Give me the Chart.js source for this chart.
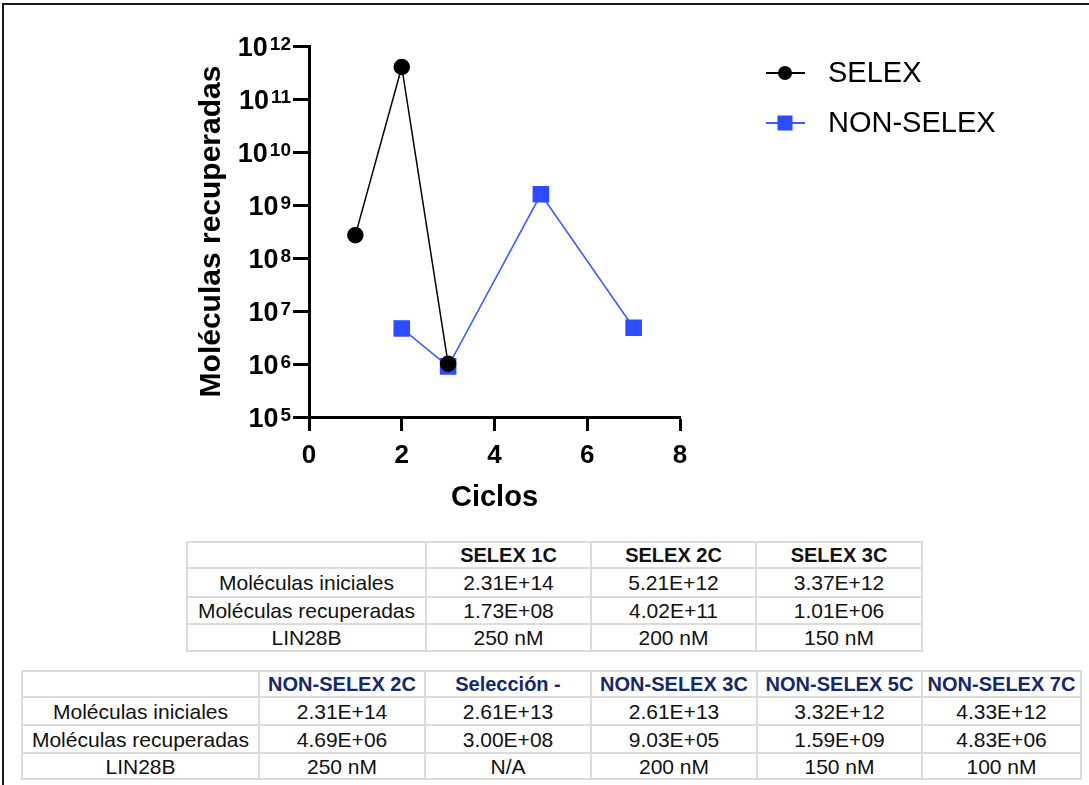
<!DOCTYPE html>
<html>
<head>
<meta charset="utf-8">
<script src="https://cdn.jsdelivr.net/npm/chart.js@4/dist/chart.umd.min.js"></script>
<style>
  html, body { margin: 0; padding: 0; background: #fff; }
  body { width: 1089px; height: 785px; position: relative; overflow: hidden; font-family: "Liberation Sans", Arial, sans-serif; }
  #frame { position: absolute; left: 2px; top: 3px; right: -10px; bottom: -10px; border-top: 2px solid #1a1a1a; border-left: 2px solid #1a1a1a; }
  #wrap { position: absolute; left: 0; top: 0; width: 1089px; height: 530px; }
  table { position: absolute; border-collapse: collapse; table-layout: fixed; font-size: 21px; color: #111; }
  td { border: 2px solid #dcdcdc; text-align: center; vertical-align: middle; padding: 0; line-height: 21px; white-space: nowrap; font-size: 21px; }
  th { border: 2px solid #dcdcdc; text-align: center; vertical-align: middle; padding: 0; line-height: 20px; white-space: nowrap; font-weight: bold; font-size: 20px; }
  #t1 { left: 186px; top: 541px; }
  #t2 { left: 21px; top: 670px; }
  #t2 th { color: #14296a; }
</style>
</head>
<body>
<div id="frame"></div>
<div id="wrap"><canvas id="c" width="1089" height="530"></canvas></div>
<table id="t1"></table>
<table id="t2"></table>
<script>
// ---- chart data ----
const selexCycles = [1, 2, 3];
const selexValues = [2.7e8, 4.02e11, 1.01e6];
const nonSelexCycles = [2, 3, 5, 7];
const nonSelexValues = [4.69e6, 9.03e5, 1.59e9, 4.83e6];
const seriesLabels = ["SELEX", "NON-SELEX"];
const yExponents = [5, 6, 7, 8, 9, 10, 11, 12];
const xTicks = [0, 2, 4, 6, 8];
const xTitle = "Ciclos";
const yTitle = "Moléculas recuperadas";

// ---- table data ----
const rowLabels = ["Moléculas iniciales", "Moléculas recuperadas", "LIN28B"];
const table1Headers = ["SELEX 1C", "SELEX 2C", "SELEX 3C"];
const table1Iniciales = ["2.31E+14", "5.21E+12", "3.37E+12"];
const table1Recuperadas = ["1.73E+08", "4.02E+11", "1.01E+06"];
const table1Lin28b = ["250 nM", "200 nM", "150 nM"];
const table2Headers = ["NON-SELEX 2C", "Selección -", "NON-SELEX 3C", "NON-SELEX 5C", "NON-SELEX 7C"];
const table2Iniciales = ["2.31E+14", "2.61E+13", "2.61E+13", "3.32E+12", "4.33E+12"];
const table2Recuperadas = ["4.69E+06", "3.00E+08", "9.03E+05", "1.59E+09", "4.83E+06"];
const table2Lin28b = ["250 nM", "N/A", "200 nM", "150 nM", "100 nM"];

// ---- tables ----
function buildTable(el, headers, rows, colWidths, rowHeights) {
  let html = '<colgroup>' + colWidths.map(w => `<col style="width:${w}px">`).join('') + '</colgroup>';
  html += `<tr style="height:${rowHeights[0]}px"><th></th>` + headers.map(h => `<th>${h}</th>`).join('') + '</tr>';
  rows.forEach((r, i) => {
    html += `<tr style="height:${rowHeights[i + 1]}px"><td>${rowLabels[i]}</td>` + r.map(v => `<td>${v}</td>`).join('') + '</tr>';
  });
  el.innerHTML = html;
}
buildTable(document.getElementById('t1'), table1Headers,
  [table1Iniciales, table1Recuperadas, table1Lin28b],
  [239, 165, 165, 166], [26, 29, 27, 27]);
buildTable(document.getElementById('t2'), table2Headers,
  [table2Iniciales, table2Recuperadas, table2Lin28b],
  [237, 166, 166, 166, 165, 159], [26, 28, 28, 26]);

// ---- chart ----
const BLACK = '#000000';
const BLUE = '#2b4cff';
const BLUE_LINE = '#3d5cff';
const FAMILY = '"Liberation Sans", Arial, sans-serif';

const superscriptTicks = {
  id: 'superscriptTicks',
  afterDraw(chart) {
    const ctx = chart.ctx;
    const y = chart.scales.y;
    ctx.save();
    ctx.fillStyle = '#000';
    yExponents.forEach(e => {
      const py = y.getPixelForValue(Math.pow(10, e));
      ctx.font = 'bold 19px ' + FAMILY;
      const ew = ctx.measureText(String(e)).width;
      const right = 291;
      ctx.textAlign = 'left';
      ctx.textBaseline = 'alphabetic';
      ctx.fillText(String(e), right - ew, py + 4);
      ctx.font = 'bold 27px ' + FAMILY;
      ctx.textAlign = 'right';
      ctx.fillText('10', right - ew - 2, py + 10);
    });
    ctx.restore();
  }
};

const customLegend = {
  id: 'customLegend',
  afterDraw(chart) {
    const ctx = chart.ctx;
    const ys = [73, 123];
    ctx.save();
    chart.data.datasets.forEach((ds, i) => {
      const yy = ys[i];
      ctx.strokeStyle = ds.borderColor;
      ctx.lineWidth = 2;
      ctx.beginPath();
      ctx.moveTo(766, yy);
      ctx.lineTo(805, yy);
      ctx.stroke();
      ctx.fillStyle = ds.pointBackgroundColor;
      if (ds.pointStyle === 'circle') {
        ctx.beginPath();
        ctx.arc(785, yy, 7, 0, Math.PI * 2);
        ctx.fill();
      } else {
        ctx.fillRect(785 - 7.5, yy - 7.5, 15, 15);
      }
      ctx.fillStyle = '#000';
      ctx.font = '29px ' + FAMILY;
      ctx.textAlign = 'left';
      ctx.textBaseline = 'middle';
      ctx.fillText(ds.label, 828, yy + 1);
    });
    ctx.restore();
  }
};

new Chart(document.getElementById('c'), {
  type: 'line',
  data: {
    datasets: [
      {
        label: seriesLabels[0],
        data: selexCycles.map((x, i) => ({ x, y: selexValues[i] })),
        borderColor: BLACK,
        backgroundColor: BLACK,
        pointBackgroundColor: BLACK,
        pointBorderColor: BLACK,
        pointStyle: 'circle',
        pointRadius: 7.5,
        borderWidth: 1.5,
        tension: 0
      },
      {
        label: seriesLabels[1],
        data: nonSelexCycles.map((x, i) => ({ x, y: nonSelexValues[i] })),
        borderColor: BLUE_LINE,
        backgroundColor: BLUE,
        pointBackgroundColor: BLUE,
        pointBorderColor: BLUE,
        pointStyle: 'rect',
        pointRadius: 10.6,
        borderWidth: 1.6,
        tension: 0
      }
    ]
  },
  options: {
    responsive: false,
    animation: false,
    devicePixelRatio: 1,
    layout: { padding: { left: 190, top: 46, right: 409, bottom: 11 } },
    plugins: { legend: { display: false }, tooltip: { enabled: false } },
    elements: { point: { borderWidth: 0 } },
    scales: {
      x: {
        type: 'linear',
        min: 0, max: 8,
        afterBuildTicks(scale) { scale.ticks = xTicks.map(v => ({ value: v })); },
        afterFit(scale) { scale.height = 102; },
        grid: { display: true, drawOnChartArea: false, drawTicks: true, tickLength: 14, tickWidth: 3, tickColor: '#000' },
        border: { display: true, width: 3, color: '#000' },
        ticks: { color: '#000', font: { family: FAMILY, size: 26, weight: 'bold' }, padding: 9, maxRotation: 0 },
        title: { display: true, text: xTitle, color: '#000', font: { family: FAMILY, size: 29, weight: 'bold' }, padding: 4 }
      },
      y: {
        type: 'logarithmic',
        min: 1e5, max: 1e12,
        afterBuildTicks(scale) { scale.ticks = yExponents.map(e => ({ value: Math.pow(10, e) })); },
        afterFit(scale) { scale.width = 119; },
        grid: { display: true, drawOnChartArea: false, drawTicks: true, tickLength: 16, tickWidth: 3, tickColor: '#000' },
        border: { display: true, width: 3, color: '#000' },
        ticks: { display: false },
        title: { display: true, text: yTitle, color: '#000', font: { family: FAMILY, size: 30, weight: 'bold' }, padding: 4 }
      }
    }
  },
  plugins: [superscriptTicks, customLegend]
});
</script>
</body>
</html>
